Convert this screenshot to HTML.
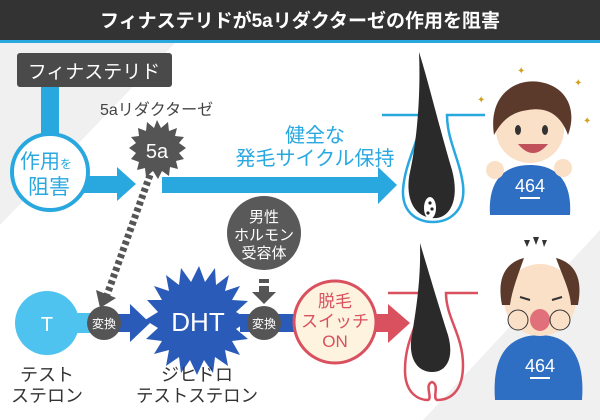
<!DOCTYPE html>
<html><head><meta charset="utf-8"><style>
html,body{margin:0;padding:0;background:#fff}
svg{display:block;font-family:"Liberation Sans","Noto Sans CJK JP",sans-serif}
</style></head><body>
<svg width="600" height="420" viewBox="0 0 600 420" xmlns="http://www.w3.org/2000/svg">
<rect width="600" height="420" fill="#fff"/>
<polygon points="0,43 175,43 0,225" fill="#f0f0f0"/>
<polygon points="600,230 600,420 423,420" fill="#f0f0f0"/>
<rect x="0" y="0" width="600" height="40" fill="#333"/>
<rect x="0" y="40" width="600" height="3" fill="#29a8e0"/>
<text x="300" y="27" font-size="19" font-weight="bold" fill="#fff" text-anchor="middle">フィナステリドが5aリダクターゼの作用を阻害</text>

<rect x="17" y="53" width="155" height="34" rx="3" fill="#4a4a4a"/>
<text x="94" y="78" font-size="19" fill="#fff" text-anchor="middle">フィナステリド</text>
<rect x="41" y="87" width="18" height="55" fill="#29a8e0"/>
<rect x="80" y="176" width="40" height="17" fill="#29a8e0"/>
<polygon points="117,167 136,184 117,201" fill="#29a8e0"/>
<circle cx="50" cy="172" r="38" fill="#fff" stroke="#29a8e0" stroke-width="4"/>
<text x="46" y="168" font-size="20" fill="#29a8e0" text-anchor="middle">作用<tspan font-size="12">を</tspan></text>
<text x="49" y="194" font-size="21" fill="#29a8e0" text-anchor="middle">阻害</text>

<text x="100" y="115" font-size="16" fill="#444">5aリダクターゼ</text>
<line x1="150" y1="175" x2="107" y2="295" stroke="#555" stroke-width="7" stroke-dasharray="4,3"/>
<polygon points="96,290 116,298 100,308" fill="#555"/>
<polygon fill="#555" points="157,120 161,128 168,122 169,131 177,128 175,136 184,137 179,143 186,148 179,153 184,159 176,161 178,169 170,167 169,176 162,171 158,179 153,171 146,177 145,168 137,170 139,162 131,159 136,153 129,148 136,143 131,137 139,136 138,128 146,131 147,122 154,128"/>
<text x="157" y="158" font-size="20" fill="#fff" text-anchor="middle">5a</text>

<rect x="162" y="177" width="218" height="16" fill="#29a8e0"/>
<polygon points="378,167 397,185 378,204" fill="#29a8e0"/>
<text x="315" y="142" font-size="20" fill="#29a8e0" text-anchor="middle">健全な</text>
<text x="315" y="165" font-size="20" fill="#29a8e0" text-anchor="middle">発毛サイクル保持</text>

<!-- top follicle -->
<path d="M382,115 H421 C421,140 405,160 403,190 C402,215 420,222 433,222 C448,222 466,212 463,185 C460,160 447,140 447,115 H485" fill="none" stroke="#29a8e0" stroke-width="2.5"/>
<path d="M419,52 C428,80 440,130 452,170 C460,200 450,220 432,218 C412,216 405,195 410,172 C416,145 421,100 419,52Z" fill="#2a2a2a"/>
<ellipse cx="430" cy="208" rx="6" ry="11" fill="#fff"/>
<circle cx="430" cy="203" r="1.6" fill="#222"/><circle cx="432" cy="209" r="1.6" fill="#222"/><circle cx="428" cy="213" r="1.6" fill="#222"/>

<!-- bottom follicle -->
<path d="M388,293 H423 C423,320 405,335 405,370 C405,395 420,400 428,400 C433,398 424,385 432,382 C440,385 432,398 437,400 C450,400 463,392 463,365 C463,335 446,318 446,293 H478" fill="none" stroke="#d9505e" stroke-width="2.5"/>
<path d="M420,243 C428,270 440,310 448,335 C455,360 445,373 431,372 C415,371 408,355 412,335 C416,310 421,280 420,243Z" fill="#2a2a2a"/>

<!-- bottom row -->
<rect x="47" y="313" width="50" height="20" fill="#4fc3f0"/>
<circle cx="47" cy="323" r="32" fill="#4fc3f0"/>
<text x="47" y="331" font-size="20" fill="#fff" text-anchor="middle">T</text>
<rect x="104" y="314" width="34" height="18" fill="#2b5bb8"/>
<polygon points="130,304 150,323 130,342" fill="#2b5bb8"/>
<circle cx="104" cy="323" r="17" fill="#555"/>
<text x="104" y="328" font-size="12" fill="#fff" text-anchor="middle">変換</text>

<polygon fill="#2b5bb8" points="199,266 205,282 215,268 216,285 229,275 225,291 240,286 232,300 248,301 236,312 250,320 236,329 248,339 232,341 240,355 225,350 228,366 215,357 213,373 204,360 197,375 190,360 181,373 179,357 166,366 169,350 154,354 162,341 146,339 158,328 145,320 158,312 147,300 162,300 154,286 169,291 166,275 179,285 181,268 191,282"/>
<text x="198" y="331" font-size="26" fill="#fff" text-anchor="middle">DHT</text>

<rect x="240" y="314" width="60" height="18" fill="#2b5bb8"/>
<circle cx="264" cy="323" r="17" fill="#555"/>
<text x="264" y="328" font-size="12" fill="#fff" text-anchor="middle">変換</text>
<circle cx="264" cy="233" r="37" fill="#595959"/>
<text x="264" y="222" font-size="15" fill="#fff" text-anchor="middle">男性</text>
<text x="264" y="240" font-size="15" fill="#fff" text-anchor="middle">ホルモン</text>
<text x="264" y="258" font-size="15" fill="#fff" text-anchor="middle">受容体</text>
<rect x="259" y="279" width="10" height="4" fill="#555"/>
<rect x="259" y="286" width="10" height="6" fill="#555"/>
<polygon points="252,292 276,292 264,304" fill="#555"/>

<rect x="370" y="314" width="22" height="18" fill="#d9505e"/>
<polygon points="388,304 410,323 388,343" fill="#d9505e"/>
<circle cx="335" cy="322" r="41" fill="#fdf3df" stroke="#d9505e" stroke-width="3"/>
<text x="335" y="307" font-size="17" fill="#d9505e" text-anchor="middle">脱毛</text>
<text x="335" y="327" font-size="17" fill="#d9505e" text-anchor="middle">スイッチ</text>
<text x="335" y="347" font-size="17" fill="#d9505e" text-anchor="middle">ON</text>

<text x="47" y="381" font-size="18" fill="#333" text-anchor="middle">テスト</text>
<text x="47" y="402" font-size="18" fill="#333" text-anchor="middle">ステロン</text>
<text x="197" y="381" font-size="18" fill="#333" text-anchor="middle">ジヒドロ</text>
<text x="197" y="402" font-size="18" fill="#333" text-anchor="middle" textLength="122" lengthAdjust="spacingAndGlyphs">テストステロン</text>

<!-- top boy -->
<path d="M490,215 C488,185 500,165 530,165 C560,165 572,185 570,215Z" fill="#2e6fc4"/>
<text x="530" y="192" font-size="18" fill="#fff" text-anchor="middle">464</text>
<rect x="520" y="197" width="20" height="2" fill="#fff"/>
<ellipse cx="530" cy="130" rx="34" ry="33" fill="#fbe0c8"/>
<path d="M494,135 C488,95 515,78 540,82 C565,86 578,108 568,135 C562,118 550,106 528,110 C512,112 502,120 494,135Z" fill="#5b3a2c"/>
<ellipse cx="518" cy="130" rx="3" ry="5" fill="#333"/><ellipse cx="545" cy="130" rx="3" ry="5" fill="#333"/>
<path d="M518,144 Q533,162 548,144Z" fill="#c0505a"/>
<circle cx="495" cy="170" r="9" fill="#fbe0c8"/><circle cx="563" cy="168" r="9" fill="#fbe0c8"/>
<text x="517" y="74" font-size="10" fill="#d4a020">✦</text><text x="574" y="86" font-size="10" fill="#d4a020">✦</text><text x="477" y="103" font-size="10" fill="#d4a020">✦</text><text x="583" y="124" font-size="10" fill="#d4a020">✦</text>

<!-- bottom boy -->
<path d="M495,400 C492,360 505,335 540,335 C572,335 585,360 582,400Z" fill="#2e6fc4"/>
<text x="540" y="372" font-size="18" fill="#fff" text-anchor="middle">464</text>
<rect x="530" y="377" width="20" height="2" fill="#fff"/>
<ellipse cx="540" cy="300" rx="36" ry="36" fill="#fbe0c8"/>
<path d="M502,305 C496,275 508,262 524,258 C518,275 512,290 510,305Z" fill="#5b3a2c"/>
<path d="M578,305 C584,275 572,262 556,258 C562,275 570,290 571,305Z" fill="#5b3a2c"/>
<ellipse cx="540" cy="320" rx="10" ry="11" fill="#e0707a"/>
<circle cx="518" cy="320" r="10" fill="#fbe0c8" stroke="#333" stroke-width="1"/><circle cx="560" cy="320" r="10" fill="#fbe0c8" stroke="#333" stroke-width="1"/>
<path d="M520,297 l10,3 M552,300 l10,-3" stroke="#333" stroke-width="2"/>
<polygon points="524,240 530,240 527,247" fill="#333"/><polygon points="533,237 539,237 536,245" fill="#333"/><polygon points="542,240 547,240 544,247" fill="#333"/>
</svg>
</body></html>
